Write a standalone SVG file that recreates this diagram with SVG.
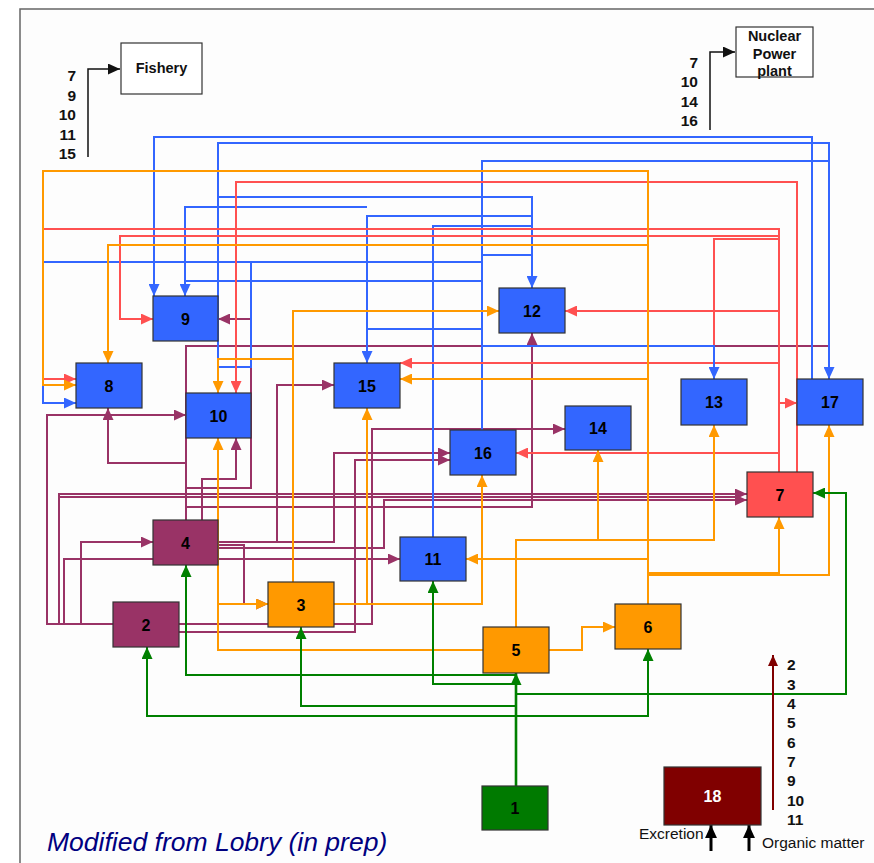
<svg xmlns="http://www.w3.org/2000/svg" width="874" height="863" viewBox="0 0 874 863">
<style>
.c{fill:none;stroke-width:2;stroke-linejoin:miter}
.b{stroke:#3366FF}.r{stroke:#FF5050}.o{stroke:#FF9900}.p{stroke:#993366}.g{stroke:#008000}
.ab{marker-end:url(#mb)}.ar{marker-end:url(#mr)}.ao{marker-end:url(#mo)}.ap{marker-end:url(#mp)}.ag{marker-end:url(#mg)}
.n rect{stroke:#333;stroke-width:1.2}
.nb{fill:#3366FF}.np{fill:#993366}.no{fill:#FF9900}.nr{fill:#FF5050}.ng{fill:#007A00}.nd{fill:#800000}
.t{font-family:"Liberation Sans",Arial,sans-serif;font-weight:bold;font-size:16px;text-anchor:middle;fill:#000}
.l{font-family:"Liberation Sans",Arial,sans-serif;font-weight:bold;font-size:15.5px;fill:#111}
.w{font-family:"Liberation Sans",Arial,sans-serif;font-size:14.5px;font-weight:bold;fill:#111}
.k{fill:none;stroke:#111;stroke-width:1.5}
</style>
<defs>
<marker id="mb" viewBox="0 0 12 11" refX="12" refY="5.5" markerWidth="12" markerHeight="11" markerUnits="userSpaceOnUse" orient="auto"><path d="M0,0L12,5.5L0,11z" fill="#3366FF"/></marker>
<marker id="mr" viewBox="0 0 12 11" refX="12" refY="5.5" markerWidth="12" markerHeight="11" markerUnits="userSpaceOnUse" orient="auto"><path d="M0,0L12,5.5L0,11z" fill="#FF5050"/></marker>
<marker id="mo" viewBox="0 0 12 11" refX="12" refY="5.5" markerWidth="12" markerHeight="11" markerUnits="userSpaceOnUse" orient="auto"><path d="M0,0L12,5.5L0,11z" fill="#FF9900"/></marker>
<marker id="mp" viewBox="0 0 12 11" refX="12" refY="5.5" markerWidth="12" markerHeight="11" markerUnits="userSpaceOnUse" orient="auto"><path d="M0,0L12,5.5L0,11z" fill="#993366"/></marker>
<marker id="mg" viewBox="0 0 12 11" refX="12" refY="5.5" markerWidth="12" markerHeight="11" markerUnits="userSpaceOnUse" orient="auto"><path d="M0,0L12,5.5L0,11z" fill="#008000"/></marker>
<marker id="mk" viewBox="0 0 12 11" refX="12" refY="5.5" markerWidth="12" markerHeight="11" markerUnits="userSpaceOnUse" orient="auto"><path d="M0,0L12,5.5L0,11z" fill="#111"/></marker>
<marker id="mk2" viewBox="0 0 12 11" refX="12" refY="5.5" markerWidth="13" markerHeight="12" markerUnits="userSpaceOnUse" orient="auto"><path d="M0,0L12,5.5L0,11z" fill="#000"/></marker>
<marker id="md" viewBox="0 0 12 11" refX="12" refY="5.5" markerWidth="12" markerHeight="10" markerUnits="userSpaceOnUse" orient="auto"><path d="M0,0L12,5.5L0,11z" fill="#800000"/></marker>
</defs>
<rect x="0" y="0" width="874" height="863" fill="#fff"/>
<rect x="20" y="9" width="880" height="880" fill="#fdfdfd" stroke="#666" stroke-width="1.5"/>

<g id="connectors">
<!-- purple -->
<path class="c p" d="M186,520V346H829V379"/>
<path class="c p ap" d="M186,488H251V319H218"/>
<path class="c p ap" d="M186,463H108V408"/>
<path class="c p ap" d="M202,520V479H236V438"/>
<path class="c p ap" d="M186,507H532V333"/>
<path class="c p ap" d="M59,624V494H747"/>
<path class="c p" d="M59,497H740"/>
<path class="c p ap" d="M218,542H277V385H334"/>
<path class="c p ap" d="M218,542H334V453H450"/>
<path class="c p ap" d="M218,548H384V500H747"/>
<path class="c p ap" d="M218,545H244V604H268"/>
<path class="c p ap" d="M113,624H47V415H186"/>
<path class="c p ap" d="M81,624V542H153"/>
<path class="c p ap" d="M64,624V559H400"/>
<path class="c p ap" d="M179,624H372V429H565"/>
<path class="c p ap" d="M179,632H355V460H450"/>
<!-- blue -->
<path class="c b ab" d="M812,379V137H154V296"/>
<path class="c b ab" d="M218,393V143H829V379"/>
<path class="c b ab" d="M218,197H532V288"/>
<path class="c b ab" d="M532,216H367V363"/>
<path class="c b ab" d="M367,207H185V296"/>
<path class="c b" d="M433,537V226H532"/>
<path class="c b" d="M482,430V161H829"/>
<path class="c b" d="M482,255H532"/>
<path class="c b ab" d="M482,262H43V403H76"/>
<path class="c b" d="M482,281H185"/>
<path class="c b" d="M251,262V367H218"/>
<path class="c b" d="M482,329H367"/>
<!-- red -->
<path class="c r ar" d="M797,472V182H236V393"/>
<path class="c r ar" d="M779,472V229H43V379H76"/>
<path class="c r ar" d="M779,236H120V319H153"/>
<path class="c r" d="M779,239H714V346"/>
<path class="c r ar" d="M779,311H565"/>
<path class="c r ar" d="M779,363H400"/>
<path class="c r ar" d="M779,403H797"/>
<path class="c r ar" d="M779,453H516"/>
<path class="c b ab" d="M482,346H714V379"/>
<!-- orange -->
<path class="c o ao" d="M648,604V171H43V385H76"/>
<path class="c o ao" d="M648,245H108V363"/>
<path class="c o ao" d="M648,379H400"/>
<path class="c o ao" d="M648,559H466"/>
<path class="c o ao" d="M648,573H779V517"/>
<path class="c o ao" d="M648,575H829V425"/>
<path class="c o ao" d="M516,627V540H714V425"/>
<path class="c o ao" d="M516,540H598V450"/>
<path class="c o ao" d="M549,650H582V627H615"/>
<path class="c o ao" d="M483,650H218V438"/>
<path class="c o ao" d="M218,604H268"/>
<path class="c o ao" d="M293,582V311H499"/>
<path class="c o ao" d="M293,359H218V393"/>
<path class="c o ao" d="M334,604H482V475"/>
<path class="c o ao" d="M367,604V408"/>
<!-- green -->
<path class="c g ag" d="M516,786V673" style="stroke-width:2.6"/>
<path class="c g ag" d="M516,786V675H186V565"/>
<path class="c g ag" d="M516,786V684H433V581"/>
<path class="c g ag" d="M516,786V694H846V493H813"/>
<path class="c g ag" d="M516,786V706H301V627"/>
<path class="c g ag" d="M516,786V716H147V647"/>
<path class="c g ag" d="M516,786V716H648V649"/>
<!-- external -->
<path class="k" d="M88,157V69H120" marker-end="url(#mk)"/>
<path class="k" d="M710,130V52H735" marker-end="url(#mk)"/>
<path d="M773,810V655" fill="none" stroke="#800000" stroke-width="2" marker-end="url(#md)"/>
<path d="M711,851V825" fill="none" stroke="#000" stroke-width="3" marker-end="url(#mk2)"/>
<path d="M749,851V825" fill="none" stroke="#000" stroke-width="3" marker-end="url(#mk2)"/>
</g>

<g id="fishery"><rect x="121" y="43" width="81" height="51" fill="#fff" stroke="#333" stroke-width="1.2"/><text class="w" x="161.5" y="73" text-anchor="middle">Fishery</text></g>
<g id="fishery-list" class="l" text-anchor="end"><text x="76" y="81" text-anchor="end" class="l">7</text><text x="76" y="100.5" text-anchor="end" class="l">9</text><text x="76" y="120" text-anchor="end" class="l">10</text><text x="76" y="139.5" text-anchor="end" class="l">11</text><text x="76" y="159" text-anchor="end" class="l">15</text></g>
<g id="nuclear"><rect x="736" y="27" width="77" height="50" fill="#fff" stroke="#333" stroke-width="1.2"/><text class="w" x="774.5" y="41" text-anchor="middle">Nuclear</text><text class="w" x="774.5" y="58.5" text-anchor="middle">Power</text><text class="w" x="774.5" y="76" text-anchor="middle">plant</text></g>
<g id="nuclear-list"><text x="698" y="67.5" text-anchor="end" class="l">7</text><text x="698" y="87" text-anchor="end" class="l">10</text><text x="698" y="106.5" text-anchor="end" class="l">14</text><text x="698" y="126" text-anchor="end" class="l">16</text></g>

<g id="node-9" class="n"><rect class="nb" x="153" y="296" width="65" height="45"/><text class="t" x="185.5" y="324.5">9</text></g>
<g id="node-8" class="n"><rect class="nb" x="76" y="363" width="66" height="45"/><text class="t" x="109" y="391.5">8</text></g>
<g id="node-10" class="n"><rect class="nb" x="186" y="393" width="65" height="45"/><text class="t" x="218.5" y="421.5">10</text></g>
<g id="node-12" class="n"><rect class="nb" x="499" y="288" width="66" height="45"/><text class="t" x="532" y="316.5">12</text></g>
<g id="node-15" class="n"><rect class="nb" x="334" y="363" width="66" height="45"/><text class="t" x="367" y="391.5">15</text></g>
<g id="node-16" class="n"><rect class="nb" x="450" y="430" width="66" height="45"/><text class="t" x="483" y="458.5">16</text></g>
<g id="node-14" class="n"><rect class="nb" x="565" y="406" width="66" height="44"/><text class="t" x="598" y="434">14</text></g>
<g id="node-11" class="n"><rect class="nb" x="400" y="537" width="66" height="44"/><text class="t" x="433" y="565">11</text></g>
<g id="node-13" class="n"><rect class="nb" x="681" y="379" width="66" height="46"/><text class="t" x="714" y="408">13</text></g>
<g id="node-17" class="n"><rect class="nb" x="797" y="379" width="66" height="46"/><text class="t" x="830" y="408">17</text></g>
<g id="node-7" class="n"><rect class="nr" x="747" y="472" width="66" height="45"/><text class="t" x="780" y="500.5">7</text></g>
<g id="node-4" class="n"><rect class="np" x="153" y="520" width="65" height="45"/><text class="t" x="185.5" y="548.5">4</text></g>
<g id="node-2" class="n"><rect class="np" x="113" y="602" width="66" height="45"/><text class="t" x="146" y="630.5">2</text></g>
<g id="node-3" class="n"><rect class="no" x="268" y="582" width="66" height="45"/><text class="t" x="301" y="610.5">3</text></g>
<g id="node-5" class="n"><rect class="no" x="483" y="627" width="66" height="46"/><text class="t" x="516" y="656">5</text></g>
<g id="node-6" class="n"><rect class="no" x="615" y="604" width="66" height="45"/><text class="t" x="648" y="632.5">6</text></g>
<g id="node-1" class="n"><rect class="ng" x="482" y="786" width="66" height="44"/><text class="t" x="515" y="814">1</text></g>
<g id="node-18" class="n"><rect class="nd" x="664" y="767" width="97" height="58"/><text class="t" x="712.5" y="802" style="fill:#fff">18</text></g>

<g id="labels">
<text x="787" y="670" class="l">2</text><text x="787" y="689.5" class="l">3</text><text x="787" y="709" class="l">4</text><text x="787" y="728" class="l">5</text><text x="787" y="747.5" class="l">6</text><text x="787" y="767" class="l">7</text><text x="787" y="786" class="l">9</text><text x="787" y="805.5" class="l">10</text><text x="787" y="825" class="l">11</text>
<text x="639" y="839" font-family="Liberation Sans, Arial, sans-serif" font-size="15.5" fill="#111">Excretion</text>
<text x="762" y="848" font-family="Liberation Sans, Arial, sans-serif" font-size="15.5" fill="#111">Organic matter</text>
<text x="47" y="851" font-family="Liberation Sans, Arial, sans-serif" font-size="26.5" font-style="italic" fill="#000080">Modified from Lobry (in prep)</text>
</g>
</svg>
